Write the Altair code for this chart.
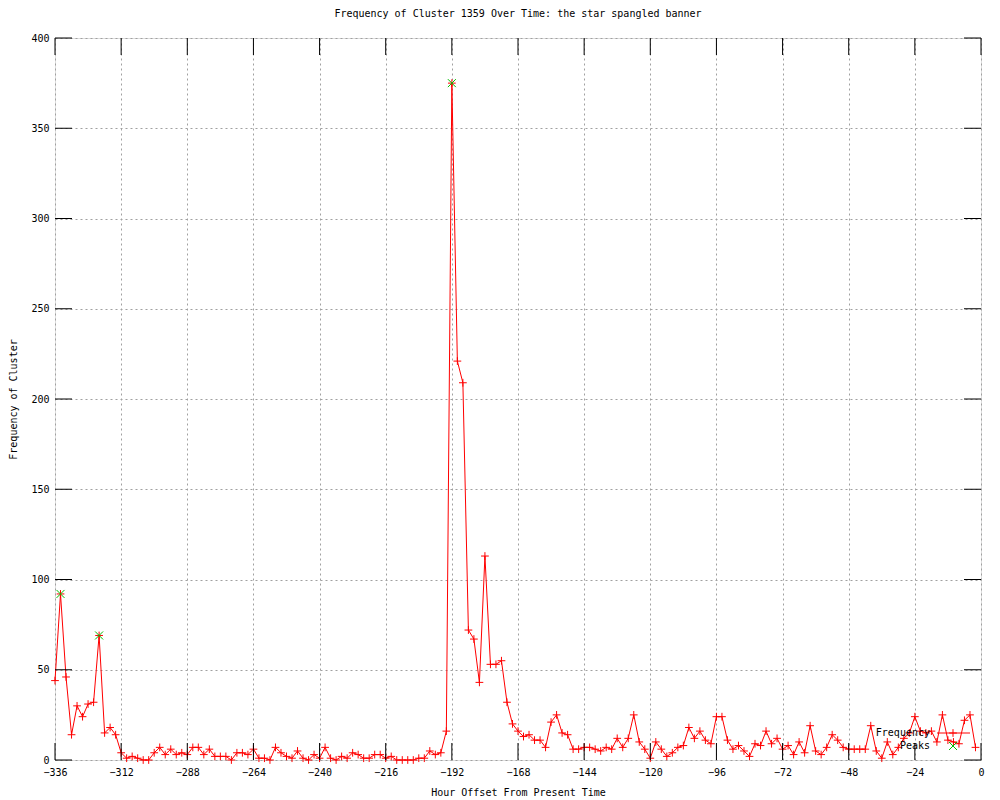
import altair as alt
import pandas as pd

# ---- data (hours before present, 2-hour steps) ----
hours = list(range(-336, 0, 2))
frequency = [
    44, 92, 46, 14, 30, 24, 31, 32, 69, 15, 18, 14,
    4, 1, 2, 1, 0, 0, 4, 7, 3, 6, 3, 4,
    3, 7, 7, 3, 6, 2, 2, 2, 0, 4, 4, 3,
    6, 1, 1, 0, 7, 4, 2, 1, 5, 1, 0, 3,
    1, 7, 1, 0, 2, 1, 4, 3, 1, 1, 3, 3,
    1, 2, 0, 0, 0, 0, 1, 1, 5, 3, 4, 16,
    375, 221, 209, 72, 67, 43, 113, 53, 53, 55, 32, 20,
    16, 13, 14, 11, 11, 7, 21, 25, 15, 14, 6, 6,
    7, 7, 6, 5, 7, 6, 12, 7, 12, 25, 10, 6,
    1, 10, 6, 2, 4, 7, 8, 18, 12, 16, 11, 9,
    24, 24, 11, 6, 8, 5, 2, 9, 8, 16, 9, 12,
    6, 8, 3, 10, 4, 19, 5, 3, 7, 14, 11, 7,
    6, 6, 6, 6, 19, 5, 1, 10, 3, 7, 12, 15,
    24, 16, 15, 16, 10, 25, 11, 10, 9, 22, 25, 7,
]
peak_hours = [-334, -320, -192]
peak_values = [92, 69, 375]
x_ticks = [-336, -312, -288, -264, -240, -216, -192, -168, -144, -120, -96, -72, -48, -24, 0]
y_ticks = [0, 50, 100, 150, 200, 250, 300, 350, 400]
legend_labels = ["Frequency", "Peaks"]
title_text = "Frequency of Cluster 1359 Over Time: the star spangled banner"

W, H = 926, 722
FONT = "DejaVu Sans Mono"
RED = "#ff0000"
GREEN = "#00c000"
PLUS = "M-1,0L1,0M0,-1L0,1"
XSHAPE = "M-1,-1L1,1M-1,1L1,-1"
TICK = 17

df = pd.DataFrame({"hour": hours, "freq": frequency})
peaks = pd.DataFrame({"hour": peak_hours, "freq": peak_values})
xt = pd.DataFrame({"hour": x_ticks})
yt = pd.DataFrame({"freq": y_ticks})

x_scale = alt.Scale(domain=[-336, 0], nice=False, zero=False)
y_scale = alt.Scale(domain=[0, 400], nice=False)

x_axis = alt.Axis(
    values=x_ticks, format="d", grid=True, gridColor="#a0a0a0", gridDash=[2, 3],
    gridWidth=1, ticks=False, tickSize=0, domain=False, labelFont=FONT,
    labelFontSize=10, labelColor="black", labelPadding=7, labelFlush=False,
    labelOverlap=False, title="Hour Offset From Present Time", titleFont=FONT,
    titleFontSize=10, titleFontWeight="normal", titleColor="black", titlePadding=10,
)
y_axis = alt.Axis(
    values=y_ticks, format="d", grid=True, gridColor="#a0a0a0", gridDash=[2, 3],
    gridWidth=1, ticks=False, tickSize=0, domain=False, labelFont=FONT,
    labelFontSize=10, labelColor="black", labelPadding=6, labelFlush=False,
    labelOverlap=False, title="Frequency of Cluster", titleFont=FONT,
    titleFontSize=10, titleFontWeight="normal", titleColor="black", titlePadding=12,
)

X = alt.X("hour:Q", scale=x_scale, axis=x_axis)
Y = alt.Y("freq:Q", scale=y_scale, axis=y_axis)

line = alt.Chart(df).mark_line(color=RED, strokeWidth=1).encode(x=X, y=Y)
pts = alt.Chart(df).mark_point(
    shape=PLUS, size=60, color=RED, filled=False, strokeWidth=1, opacity=1
).encode(x=X, y=Y)
pk = alt.Chart(peaks).mark_point(
    shape=XSHAPE, size=64, color=GREEN, filled=False, strokeWidth=1, opacity=1
).encode(x=X, y=Y)

xt_bottom = alt.Chart(xt).mark_rule(color="black", strokeWidth=1).encode(
    x=X, y=alt.value(H - TICK), y2=alt.value(H)
)
xt_top = alt.Chart(xt).mark_rule(color="black", strokeWidth=1).encode(
    x=X, y=alt.value(0), y2=alt.value(TICK)
)
yt_left = alt.Chart(yt).mark_rule(color="black", strokeWidth=1).encode(
    y=Y, x=alt.value(0), x2=alt.value(TICK)
)
yt_right = alt.Chart(yt).mark_rule(color="black", strokeWidth=1).encode(
    y=Y, x=alt.value(W - TICK), x2=alt.value(W)
)

leg_txt1 = alt.Chart(pd.DataFrame({"label": [legend_labels[0]]})).mark_text(
    font=FONT, fontSize=10, align="right", baseline="middle", color="black"
).encode(text="label:N", x=alt.value(875), y=alt.value(695))
leg_txt2 = alt.Chart(pd.DataFrame({"label": [legend_labels[1]]})).mark_text(
    font=FONT, fontSize=10, align="right", baseline="middle", color="black"
).encode(text="label:N", x=alt.value(875), y=alt.value(708))
leg_line = alt.Chart(pd.DataFrame({"label": [legend_labels[0]]})).mark_rule(
    color=RED, strokeWidth=1
).encode(x=alt.value(882), x2=alt.value(915), y=alt.value(695))
leg_pt = alt.Chart(pd.DataFrame({"label": [legend_labels[0]]})).mark_point(
    shape=PLUS, size=60, color=RED, filled=False, strokeWidth=1, opacity=1
).encode(x=alt.value(898), y=alt.value(695))
leg_pk = alt.Chart(pd.DataFrame({"label": [legend_labels[1]]})).mark_point(
    shape=XSHAPE, size=64, color=GREEN, filled=False, strokeWidth=1, opacity=1
).encode(x=alt.value(898), y=alt.value(708))

chart = alt.layer(
    line, pts, pk, xt_bottom, xt_top, yt_left, yt_right,
    leg_line, leg_pt, leg_pk, leg_txt1, leg_txt2,
).properties(
    width=W, height=H,
    title=alt.TitleParams(
        text=title_text, font=FONT, fontSize=10, fontWeight="normal",
        color="black", anchor="middle", offset=14,
    ),
    autosize=alt.AutoSizeParams(type="none"),
    padding={"left": 47, "top": 30, "right": 11, "bottom": 40},
).configure_view(
    stroke="black", strokeWidth=1
).configure(background="white")

chart.save("out.html", embed_options={"renderer": "svg", "actions": False})
